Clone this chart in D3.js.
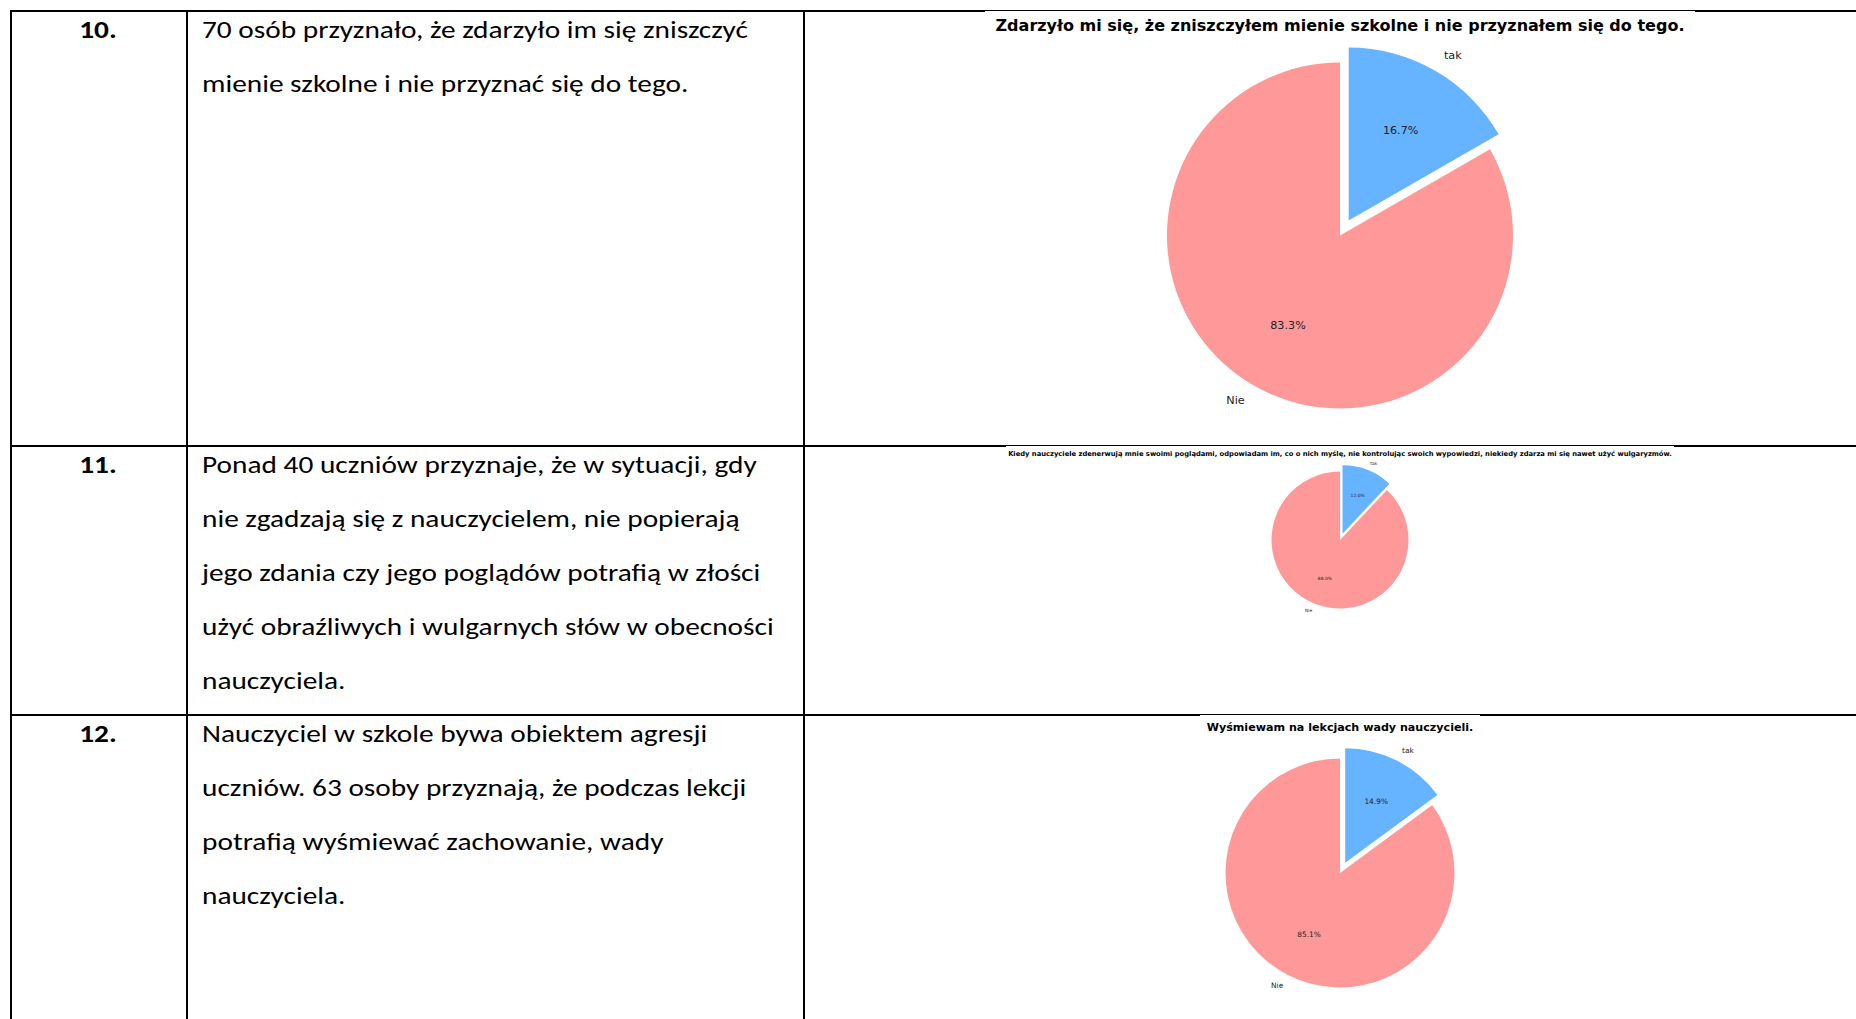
<!DOCTYPE html>
<html>
<head>
<meta charset="utf-8">
<script src="https://cdn.jsdelivr.net/npm/d3@7"></script>
<style>
  body { margin: 0; background: #fff; }
  svg { display: block; }
</style>
</head>
<body>
<script>
'use strict';

// table content
const rowNumbers = ['10.', '11.', '12.'];
const rowTexts = [
  ['70 osób przyznało, że zdarzyło im się zniszczyć',
   'mienie szkolne i nie przyznać się do tego.'],
  ['Ponad 40 uczniów przyznaje, że w sytuacji, gdy',
   'nie zgadzają się z nauczycielem, nie popierają',
   'jego zdania czy jego poglądów potrafią w złości',
   'użyć obraźliwych i wulgarnych słów w obecności',
   'nauczyciela.'],
  ['Nauczyciel w szkole bywa obiektem agresji',
   'uczniów. 63 osoby przyznają, że podczas lekcji',
   'potrafią wyśmiewać zachowanie, wady',
   'nauczyciela.']
];

// pie chart content
const chartTitles = [
  'Zdarzyło mi się, że zniszczyłem mienie szkolne i nie przyznałem się do tego.',
  'Kiedy nauczyciele zdenerwują mnie swoimi poglądami, odpowiadam im, co o nich myślę, nie kontrolując swoich wypowiedzi, niekiedy zdarza mi się nawet użyć wulgaryzmów.',
  'Wyśmiewam na lekcjach wady nauczycieli.'
];
const sliceLabels = ['tak', 'Nie'];
const takShares = [16.7, 12.0, 14.9];
const nieShares = [83.3, 88.0, 85.1];
const sliceColors = ['#66b3ff', '#ff9999'];

(function() {

  let svgContainer = '';

  // layout of the scanned table
  const rowTops = [11, 446, 715];
  const colLines = [11, 187, 804];
  const textX = 202;
  const numX = 98;
  const lineStep = 54;
  const bodyFont = 'Carlito, Calibri, Lato, "Open Sans", sans-serif';
  const bodySize = '24.8px';

  // where each pie sits (image box, title, pie centre, radius)
  const charts = [
    {x0: 985, x1: 1695, y0: 11, y1: 444, titleY: 25, titleW: 690, cx: 1340, cy: 235.5, r: 173},
    {x0: 1006, x1: 1674, y0: 446, y1: 713, titleY: 454, titleW: 664, cx: 1340, cy: 540, r: 68.5},
    {x0: 1200, x1: 1480, y0: 715, y1: 1019, titleY: 727, titleW: 267, cx: 1340, cy: 873, r: 114.5}
  ];

  window.onload = function() {
    svgContainer = d3.select('body')
      .append('svg')
      .attr('width', 1856)
      .attr('height', 1019);

    svgContainer.append('rect')
      .attr('width', 1856).attr('height', 1019).attr('fill', '#fff');

    drawGrid();
    drawRowTexts();
    for (let i = 0; i < charts.length; i++) {
      drawPie(i);
    }
  };

  // table borders
  function drawGrid() {
    let grid = svgContainer.append('g').attr('stroke', '#000').attr('stroke-width', 2);
    rowTops.forEach(function(y) {
      grid.append('line').attr('x1', colLines[0] - 1).attr('x2', 1856).attr('y1', y).attr('y2', y);
    });
    colLines.forEach(function(x) {
      grid.append('line').attr('x1', x).attr('x2', x).attr('y1', rowTops[0] - 1).attr('y2', 1019);
    });
  }

  // numbers and descriptions, squeezed to the width of the original font
  function drawRowTexts() {
    let probe = svgContainer.append('text')
      .style('font-family', bodyFont)
      .style('font-size', bodySize)
      .text(rowTexts[0][0]);
    let squeeze = 546 / probe.node().getComputedTextLength();
    probe.remove();

    for (let i = 0; i < rowTexts.length; i++) {
      let base = rowTops[i] + 27;

      svgContainer.append('text')
        .attr('transform', 'translate(' + numX + ',' + base + ') scale(' + squeeze + ',1)')
        .attr('text-anchor', 'middle')
        .style('font-family', bodyFont)
        .style('font-size', bodySize)
        .style('font-weight', 'bold')
        .text(rowNumbers[i]);

      let block = svgContainer.append('g')
        .attr('transform', 'translate(' + textX + ',' + base + ') scale(' + squeeze + ',1)');
      block.selectAll('text')
        .data(rowTexts[i])
        .enter()
        .append('text')
          .attr('x', 0)
          .attr('y', (d, j) => j * lineStep)
          .style('font-family', bodyFont)
          .style('font-size', bodySize)
          .attr('fill', '#000')
          .text((d) => d);
    }
  }

  // one matplotlib style pie with the "tak" slice pulled out
  function drawPie(i) {
    let c = charts[i];
    let k = c.r / 173;
    let labelSize = 11.2 * k;

    // the pasted chart image covers half of the border line
    svgContainer.append('rect')
      .attr('x', c.x0).attr('y', c.y0)
      .attr('width', c.x1 - c.x0).attr('height', c.y1 - c.y0)
      .attr('fill', '#fff');

    let title = svgContainer.append('text')
      .attr('x', c.cx)
      .attr('y', c.titleY)
      .attr('text-anchor', 'middle')
      .attr('dominant-baseline', 'central')
      .style('font-family', '"DejaVu Sans", sans-serif')
      .style('font-weight', 'bold')
      .style('font-size', '12px')
      .text(chartTitles[i]);
    let fitted = 12 * c.titleW / title.node().getComputedTextLength();
    title.style('font-size', fitted + 'px');

    let slices = [
      {label: sliceLabels[0], value: takShares[i], color: sliceColors[0], explode: 0.1},
      {label: sliceLabels[1], value: nieShares[i], color: sliceColors[1], explode: 0}
    ];

    let pie = d3.pie().sort(null).value((d) => d.value);
    let arcs = pie(slices);

    let wedge = d3.arc().innerRadius(0).outerRadius(c.r);
    let pushOut = (d) => d3.arc().innerRadius(0).outerRadius(2 * d.data.explode * c.r).centroid(d);
    let labelArc = d3.arc().innerRadius(1.1 * c.r).outerRadius(1.1 * c.r);
    let pctArc = d3.arc().innerRadius(0.6 * c.r).outerRadius(0.6 * c.r);

    let g = svgContainer.append('g')
      .attr('transform', 'translate(' + c.cx + ',' + c.cy + ')');

    let pieces = g.selectAll('.slice')
      .data(arcs)
      .enter()
      .append('g')
        .attr('class', 'slice')
        .attr('transform', function(d) {
          let p = pushOut(d);
          return 'translate(' + p[0] + ',' + p[1] + ')';
        });

    pieces.append('path')
      .attr('d', wedge)
      .attr('fill', (d) => d.data.color);

    pieces.append('text')
      .attr('x', (d) => labelArc.centroid(d)[0])
      .attr('y', (d) => labelArc.centroid(d)[1])
      .attr('text-anchor', (d) => labelArc.centroid(d)[0] > 0 ? 'start' : 'end')
      .attr('dominant-baseline', 'central')
      .style('font-family', '"DejaVu Sans", sans-serif')
      .style('font-size', labelSize + 'px')
      .attr('fill', '#222')
      .text((d) => d.data.label);

    pieces.append('text')
      .attr('x', (d) => pctArc.centroid(d)[0])
      .attr('y', (d) => pctArc.centroid(d)[1])
      .attr('text-anchor', 'middle')
      .attr('dominant-baseline', 'central')
      .style('font-family', '"DejaVu Sans", sans-serif')
      .style('font-size', labelSize + 'px')
      .attr('fill', '#222')
      .text((d) => d.data.value.toFixed(1) + '%');
  }
})();
</script>
</body>
</html>
